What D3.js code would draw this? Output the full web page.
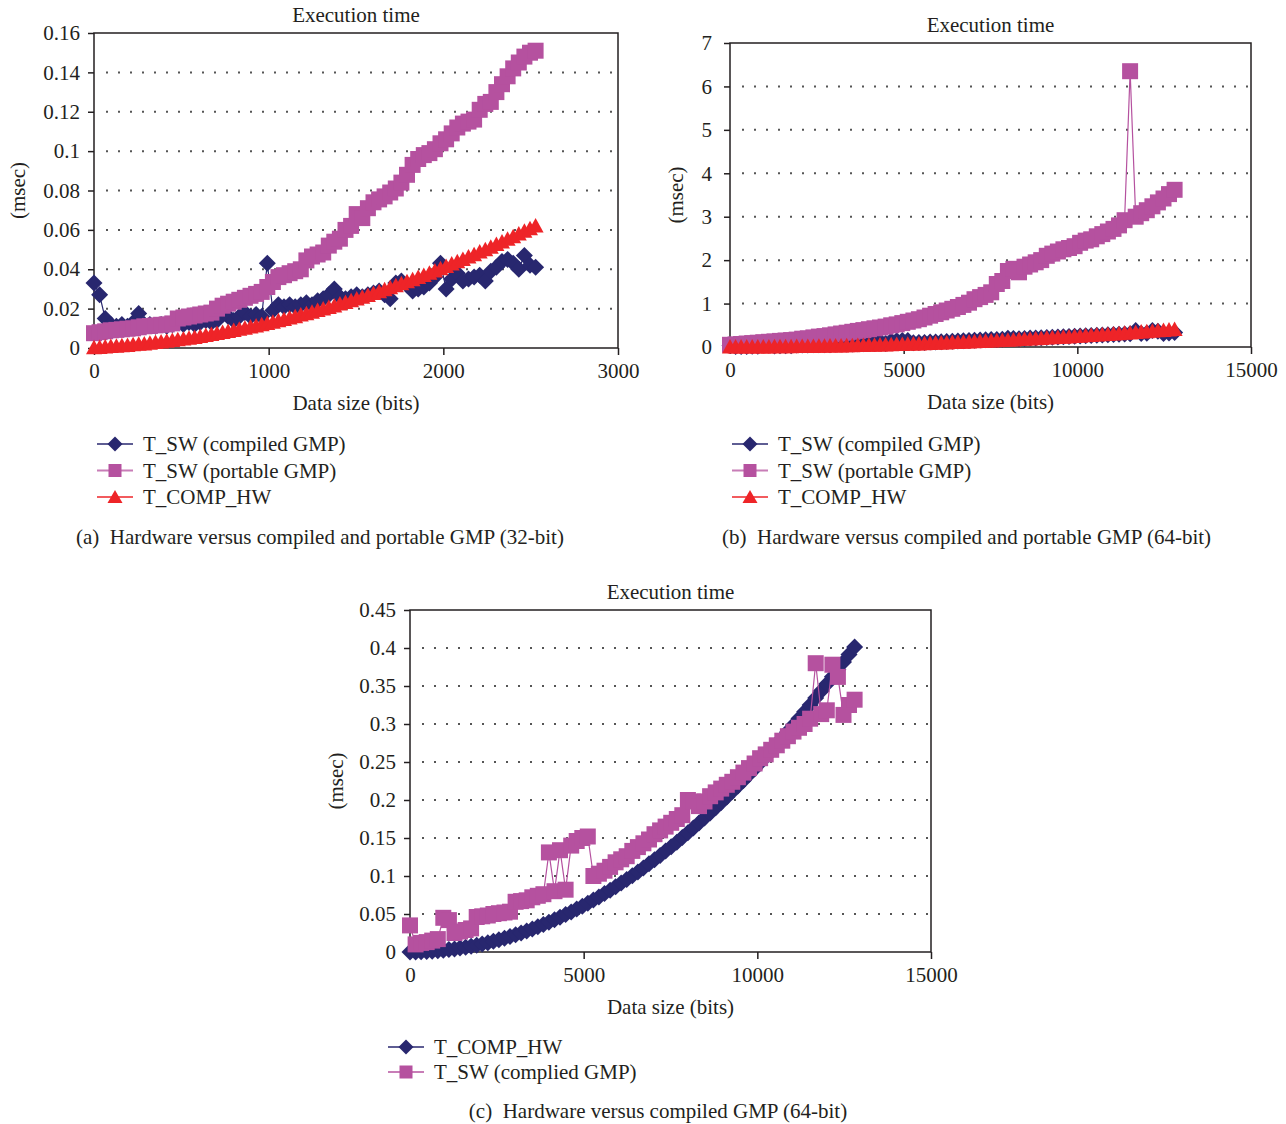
<!DOCTYPE html>
<html>
<head>
<meta charset="utf-8">
<script src="https://cdn.jsdelivr.net/npm/d3@7"></script>
<style>
body { margin: 0; background: #fff; }
svg text { font-family: "Liberation Serif", "Times New Roman", serif; font-size: 21px; fill: #231f20; }
</style>
</head>
<body>
<svg id="fig" width="1286" height="1124"></svg>
<script>
const navy = "#28276f", magenta = "#b5519f", red = "#ee2428";

// data sizes (bits)
const bits32 = d3.range(0, 2560, 32);
const bits64 = d3.range(0, 12801, 160);

// (a) 32-bit
const swCompiled32 = [
  0.033,0.027,0.015,0.012,0.011,0.012,0.011,0.013,0.0175,0.012,
  0.012,0.011,0.012,0.011,0.012,0.013,0.012,0.013,0.012,0.013,
  0.014,0.013,0.014,0.017,0.016,0.014,0.016,0.018,0.016,0.017,
  0.016,0.043,0.019,0.022,0.021,0.022,0.021,0.022,0.023,0.022,
  0.024,0.025,0.027,0.030,0.026,0.025,0.026,0.027,0.026,0.027,
  0.028,0.029,0.027,0.025,0.033,0.034,0.032,0.029,0.030,0.031,
  0.033,0.036,0.043,0.030,0.035,0.038,0.034,0.035,0.036,0.037,
  0.034,0.039,0.041,0.044,0.045,0.043,0.040,0.047,0.042,0.041];
const swPortable32 = [
  0.0075,0.0080,0.0085,0.0090,0.0092,0.0095,0.0098,0.0100,0.0105,0.0110,
  0.0112,0.0115,0.0118,0.0120,0.0125,0.0150,0.0155,0.0160,0.0165,0.0170,
  0.0175,0.0180,0.0200,0.0215,0.0225,0.0235,0.0245,0.0255,0.0265,0.0275,
  0.0285,0.0310,0.0335,0.0360,0.0370,0.0380,0.0390,0.0400,0.0445,0.0465,
  0.0475,0.0485,0.0520,0.0540,0.0555,0.0600,0.0620,0.0680,0.0660,0.0710,
  0.0740,0.0755,0.0770,0.0790,0.0810,0.0840,0.0880,0.0930,0.0960,0.0980,
  0.0990,0.1010,0.1040,0.1060,0.1090,0.1120,0.1140,0.1150,0.1160,0.1210,
  0.1240,0.1250,0.1300,0.1340,0.1380,0.1420,0.1450,0.1480,0.1500,0.1510];
const compHw32 = [
  0.0001,0.0003,0.0005,0.0007,0.0009,0.0011,0.0013,0.0016,0.0019,0.0021,
  0.0024,0.0028,0.0031,0.0034,0.0038,0.0042,0.0046,0.0050,0.0054,0.0059,
  0.0063,0.0068,0.0073,0.0078,0.0084,0.0089,0.0095,0.0100,0.0106,0.0112,
  0.0118,0.0125,0.0131,0.0138,0.0145,0.0152,0.0159,0.0167,0.0174,0.0182,
  0.0190,0.0198,0.0206,0.0214,0.0223,0.0231,0.0240,0.0249,0.0258,0.0267,
  0.0277,0.0286,0.0296,0.0306,0.0316,0.0326,0.0337,0.0347,0.0358,0.0369,
  0.0380,0.0391,0.0403,0.0414,0.0426,0.0438,0.0450,0.0462,0.0474,0.0487,
  0.0499,0.0512,0.0525,0.0538,0.0552,0.0565,0.0579,0.0593,0.0606,0.0620];

// (b), (c) 64-bit
const swPortable64 = [
  0.05,0.06,0.07,0.08,0.09,0.10,0.11,0.12,0.13,0.14,
  0.15,0.16,0.17,0.19,0.20,0.22,0.24,0.25,0.27,0.29,
  0.31,0.33,0.35,0.37,0.39,0.41,0.43,0.45,0.47,0.50,
  0.52,0.55,0.58,0.61,0.64,0.68,0.72,0.76,0.80,0.84,
  0.88,0.92,0.97,1.02,1.10,1.15,1.20,1.26,1.45,1.52,
  1.75,1.80,1.72,1.85,1.90,1.95,2.00,2.10,2.15,2.20,
  2.25,2.28,2.32,2.40,2.45,2.48,2.55,2.60,2.66,2.72,
  2.80,2.92,6.35,3.00,3.08,3.15,3.24,3.33,3.42,3.52,
  3.62];
const swCompiled64 = [
  0.035,0.010,0.012,0.013,0.015,0.017,0.045,0.042,0.025,0.027,
  0.029,0.031,0.046,0.047,0.048,0.050,0.051,0.052,0.053,0.066,
  0.067,0.068,0.072,0.074,0.076,0.131,0.080,0.134,0.082,0.140,
  0.146,0.150,0.152,0.100,0.103,0.107,0.112,0.118,0.122,0.126,
  0.133,0.138,0.143,0.148,0.155,0.160,0.165,0.170,0.175,0.180,
  0.200,0.198,0.192,0.198,0.205,0.210,0.215,0.220,0.224,0.230,
  0.236,0.242,0.248,0.255,0.260,0.266,0.272,0.278,0.284,0.290,
  0.295,0.300,0.307,0.380,0.313,0.318,0.378,0.362,0.312,0.325,
  0.332];
const compHw64 = [
  0.0000,0.0001,0.0003,0.0006,0.0010,0.0016,0.0023,0.0031,0.0040,0.0051,
  0.0063,0.0076,0.0090,0.0106,0.0123,0.0141,0.0161,0.0181,0.0203,0.0226,
  0.0251,0.0277,0.0304,0.0332,0.0361,0.0392,0.0424,0.0457,0.0492,0.0527,
  0.0564,0.0603,0.0642,0.0683,0.0725,0.0768,0.0813,0.0859,0.0906,0.0954,
  0.1004,0.1054,0.1106,0.1160,0.1214,0.1270,0.1327,0.1385,0.1445,0.1506,
  0.1568,0.1631,0.1696,0.1762,0.1829,0.1897,0.1967,0.2038,0.2110,0.2183,
  0.2258,0.2334,0.2411,0.2489,0.2569,0.2650,0.2732,0.2815,0.2900,0.2986,
  0.3073,0.3162,0.3251,0.3342,0.3435,0.3528,0.3623,0.3719,0.3816,0.3914,
  0.4014];

// ticks
const xTicks32 = [0, 1000, 2000, 3000];
const xTicks64 = [0, 5000, 10000, 15000];
const yTicksA = [0, 0.02, 0.04, 0.06, 0.08, 0.1, 0.12, 0.14, 0.16];
const yTicksB = [0, 1, 2, 3, 4, 5, 6, 7];
const yTicksC = [0, 0.05, 0.1, 0.15, 0.2, 0.25, 0.3, 0.35, 0.4, 0.45];

const shapes = {
  diamond: "M0,-8.5L8.5,0L0,8.5L-8.5,0Z",
  square: "M-8,-8H8V8H-8Z",
  triangle: "M0,-8L8,6.5H-8Z"
};
const legendShapes = {
  diamond: "M0,-7.5L7.5,0L0,7.5L-7.5,0Z",
  square: "M-6.5,-6.5H6.5V6.5H-6.5Z",
  triangle: "M0,-7L7.5,6H-7.5Z"
};

const svg = d3.select("#fig");

function drawPanel(cfg) {
  const g = svg.append("g");
  const x = d3.scaleLinear().domain(cfg.xDomain).range([cfg.left, cfg.right]);
  const y = d3.scaleLinear().domain(cfg.yDomain).range([cfg.bottom, cfg.top]);

  // dotted gridlines
  g.append("g").selectAll("line").data(cfg.yTicks.slice(1, -1)).join("line")
    .attr("x1", cfg.left + 12).attr("x2", cfg.right - 2)
    .attr("y1", d => y(d)).attr("y2", d => y(d))
    .attr("stroke", "#555").attr("stroke-width", 2)
    .attr("stroke-dasharray", "2 10");

  // frame
  g.append("rect")
    .attr("x", cfg.left).attr("y", cfg.top)
    .attr("width", cfg.right - cfg.left).attr("height", cfg.bottom - cfg.top)
    .attr("fill", "none").attr("stroke", "#231f20").attr("stroke-width", 1.5);

  // axes
  const ax = g.append("g").attr("transform", `translate(0,${cfg.bottom})`)
    .call(d3.axisBottom(x).tickValues(cfg.xTicks).tickSize(7).tickPadding(8).tickFormat(d3.format("d")));
  const ay = g.append("g").attr("transform", `translate(${cfg.left},0)`)
    .call(d3.axisLeft(y).tickValues(cfg.yTicks).tickSize(6).tickPadding(cfg.yPad).tickFormat(d => String(+d.toFixed(2))));
  [ax, ay].forEach(a => {
    a.select(".domain").remove();
    a.selectAll("line").attr("stroke", "#231f20").attr("stroke-width", 1.5);
    a.selectAll("text").attr("fill", "#231f20");
  });

  // titles
  g.append("text").attr("x", (cfg.left + cfg.right) / 2).attr("y", cfg.top - 11)
    .attr("text-anchor", "middle").text("Execution time");
  g.append("text").attr("x", (cfg.left + cfg.right) / 2).attr("y", cfg.bottom + 62)
    .attr("text-anchor", "middle").text("Data size (bits)");
  g.append("text").attr("transform", `translate(${cfg.yLabelX},${(cfg.top + cfg.bottom) / 2}) rotate(-90)`)
    .attr("text-anchor", "middle").attr("dominant-baseline", "central").text("(msec)");

  // series
  cfg.series.forEach(s => {
    const pts = cfg.xs.map((v, i) => [v, s.values[i]]);
    g.append("path").datum(pts)
      .attr("d", d3.line().x(d => x(d[0])).y(d => y(d[1])))
      .attr("fill", "none").attr("stroke", s.color).attr("stroke-width", 1.2);
    g.append("g").selectAll("path").data(pts).join("path")
      .attr("transform", d => `translate(${x(d[0]).toFixed(1)},${y(d[1]).toFixed(1)})`)
      .attr("d", shapes[s.shape]).attr("fill", s.color);
  });

  // legend
  const lg = g.append("g");
  cfg.legend.forEach((s, i) => {
    const ly = cfg.legendY + i * cfg.legendGap;
    lg.append("line").attr("x1", cfg.legendX - 18).attr("x2", cfg.legendX + 18)
      .attr("y1", ly).attr("y2", ly).attr("stroke", s.color).attr("stroke-width", 2).attr("stroke-opacity", 0.75);
    lg.append("path").attr("transform", `translate(${cfg.legendX},${ly})`)
      .attr("d", legendShapes[s.shape]).attr("fill", s.color);
    lg.append("text").attr("x", cfg.legendX + 28).attr("y", ly + 7).text(s.name);
  });

  // caption
  g.append("text").attr("x", cfg.captionX).attr("y", cfg.captionY)
    .attr("text-anchor", cfg.captionAnchor || "start")
    .style("white-space", "pre").text(cfg.caption);
}

const sA = [
  {name: "T_SW (compiled GMP)", values: swCompiled32, color: navy, shape: "diamond"},
  {name: "T_SW (portable GMP)", values: swPortable32, color: magenta, shape: "square"},
  {name: "T_COMP_HW", values: compHw32, color: red, shape: "triangle"}
];
drawPanel({
  left: 94, right: 618, top: 33, bottom: 348, yPad: 8, yLabelX: 18,
  xDomain: [0, 3000], yDomain: [0, 0.16], xTicks: xTicks32, yTicks: yTicksA,
  xs: bits32, series: sA, legend: sA,
  legendX: 115, legendY: 444, legendGap: 26.5,
  caption: "(a)  Hardware versus compiled and portable GMP (32-bit)", captionX: 76, captionY: 544
});

const sB = [
  {name: "T_SW (compiled GMP)", values: swCompiled64, color: navy, shape: "diamond"},
  {name: "T_SW (portable GMP)", values: swPortable64, color: magenta, shape: "square"},
  {name: "T_COMP_HW", values: compHw64, color: red, shape: "triangle"}
];
drawPanel({
  left: 730, right: 1251, top: 43, bottom: 347, yPad: 12, yLabelX: 676,
  xDomain: [0, 15000], yDomain: [0, 7], xTicks: xTicks64, yTicks: yTicksB,
  xs: bits64, series: sB, legend: sB,
  legendX: 750, legendY: 444, legendGap: 26.5,
  caption: "(b)  Hardware versus compiled and portable GMP (64-bit)", captionX: 722, captionY: 544
});

const sC = [
  {name: "T_COMP_HW", values: compHw64, color: navy, shape: "diamond"},
  {name: "T_SW (complied GMP)", values: swCompiled64, color: magenta, shape: "square"}
];
drawPanel({
  left: 410, right: 931, top: 610, bottom: 952, yPad: 8, yLabelX: 336,
  xDomain: [0, 15000], yDomain: [0, 0.45], xTicks: xTicks64, yTicks: yTicksC,
  xs: bits64, series: sC, legend: sC,
  legendX: 406, legendY: 1047, legendGap: 25,
  caption: "(c)  Hardware versus compiled GMP (64-bit)", captionX: 658, captionY: 1118, captionAnchor: "middle"
});
</script>
</body>
</html>
